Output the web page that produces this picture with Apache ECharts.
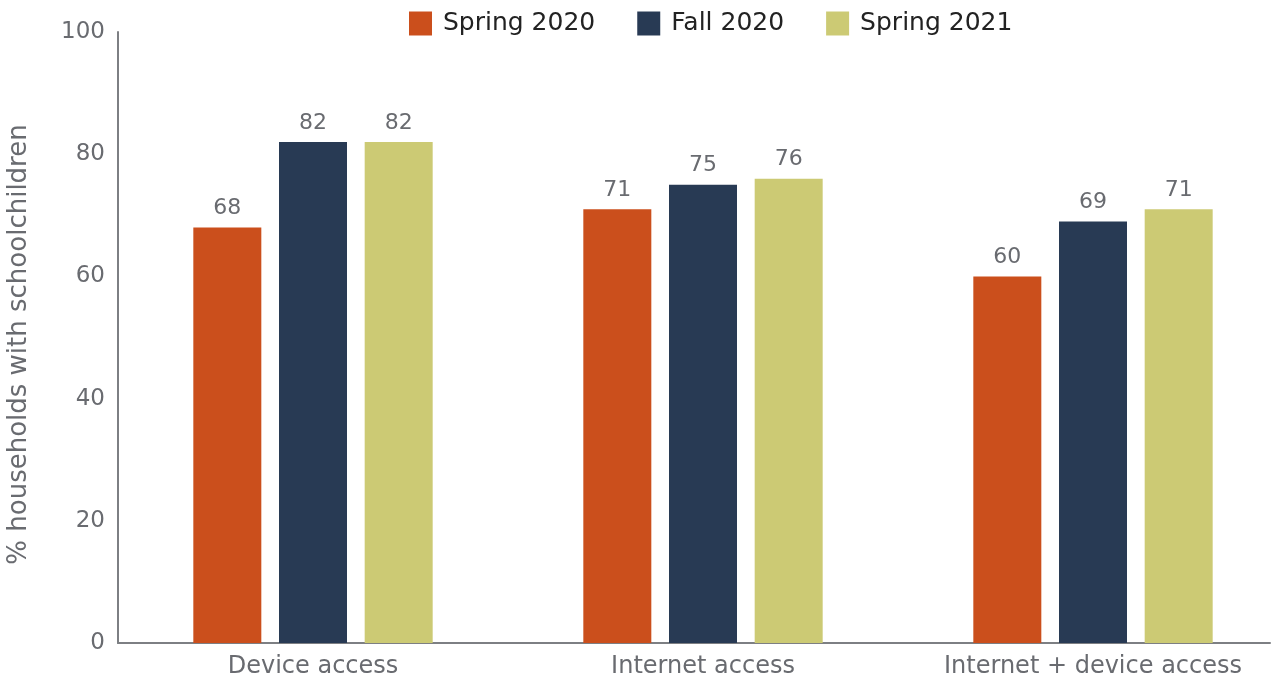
<!DOCTYPE html>
<html><head><meta charset="utf-8">
<script src="https://cdn.jsdelivr.net/npm/echarts@6/dist/echarts.min.js"></script>
<style>html,body{margin:0;padding:0;background:#fff}#c{width:1280px;height:688px}</style>
</head><body><div id="c"></div>
<script>
var categories = ['Device access', 'Internet access', 'Internet + device access'];
var spring2020 = [68, 71, 60];
var fall2020 = [82, 75, 69];
var spring2021 = [82, 76, 71];
var seriesNames = ['Spring 2020', 'Fall 2020', 'Spring 2021'];
var colors = ['#CB4F1C', '#283A54', '#CCCA74'];
var FONT = '"DejaVu Sans", "Liberation Sans", sans-serif';
var GRAY = '#696b70';
var chart = echarts.init(document.getElementById('c'));
function bar(name, data, color) {
  return {
    name: name, type: 'bar', data: data, barWidth: 68, barGap: '26%',
    itemStyle: { color: color },
    label: { show: true, position: 'top', distance: 8, color: GRAY, fontSize: 22, fontFamily: FONT },
    xAxisIndex: 0, yAxisIndex: 0
  };
}
chart.setOption({
  animation: false,
  color: colors,
  legend: {
    top: 11, left: 409, padding: 0, itemWidth: 23, itemHeight: 24, itemGap: 42,
    icon: 'rect',
    textStyle: { color: '#222', fontSize: 25, fontFamily: FONT, padding: [0, 0, 0, 6] },
    data: seriesNames
  },
  grid: [
    { left: 118, right: -8, top: 32, bottom: 45, containLabel: false, outerBoundsMode: 'none' },
    { left: 118, right: 10, top: 32, bottom: 45, containLabel: false, outerBoundsMode: 'none' }
  ],
  xAxis: [
    {
      type: 'category', data: categories, gridIndex: 0,
      axisLine: { show: false }, axisTick: { show: false },
      axisLabel: { color: GRAY, fontSize: 24, fontFamily: FONT, margin: 12, interval: 0, hideOverlap: false }
    },
    {
      type: 'value', gridIndex: 1, min: 0, max: 1,
      axisLine: { show: true, lineStyle: { color: '#7d7f83', width: 2 } },
      axisTick: { show: false }, axisLabel: { show: false }, splitLine: { show: false }
    }
  ],
  yAxis: [
    {
      type: 'value', gridIndex: 0, min: 0, max: 100, interval: 20,
      name: '% households with schoolchildren', nameLocation: 'middle', nameGap: 86,
      nameTextStyle: { color: GRAY, fontSize: 26, fontFamily: FONT, padding: [0, 14, 0, 0] },
      axisLine: { show: true, lineStyle: { color: '#7d7f83', width: 2 } },
      axisTick: { show: false },
      axisLabel: { color: GRAY, fontSize: 23, fontFamily: FONT, margin: 13 },
      splitLine: { show: false }
    },
    { type: 'value', gridIndex: 1, show: false, min: 0, max: 1 }
  ],
  series: [
    bar(seriesNames[0], spring2020, colors[0]),
    bar(seriesNames[1], fall2020, colors[1]),
    bar(seriesNames[2], spring2021, colors[2])
  ]
});
</script></body></html>
